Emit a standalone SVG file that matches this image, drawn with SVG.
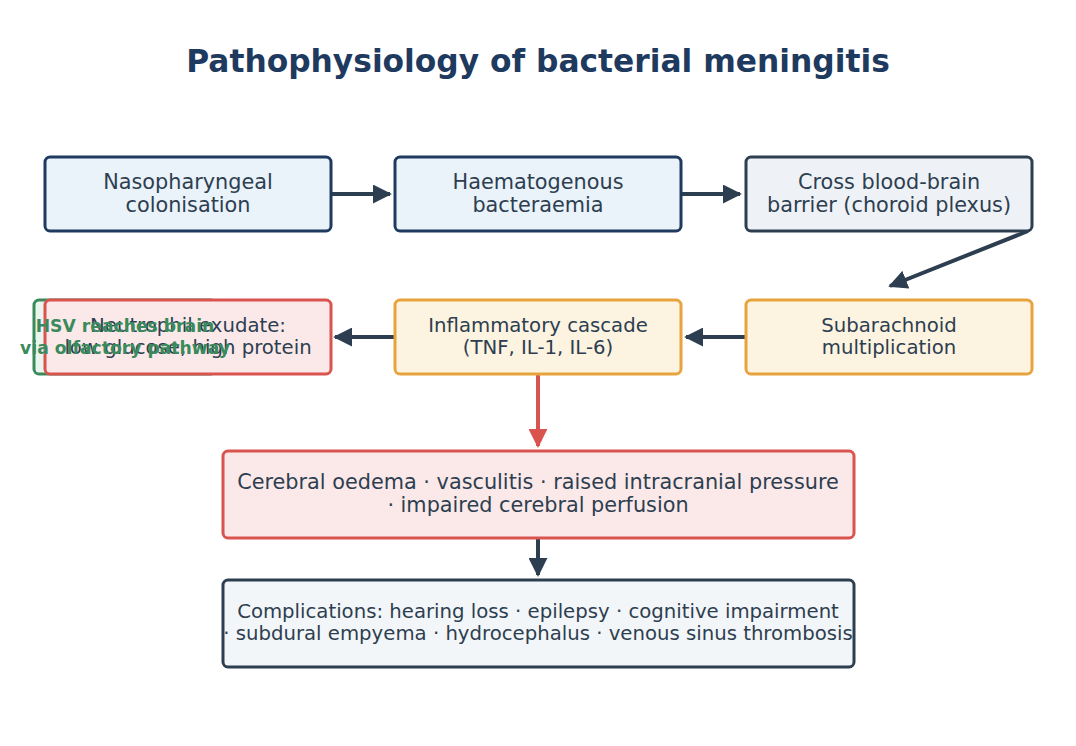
<svg xmlns="http://www.w3.org/2000/svg" width="1076" height="746" viewBox="0 0 1076 746">
<style>
text{font-family:"DejaVu Sans","Liberation Sans",sans-serif;text-anchor:middle;fill:#2d3e50}
.title{font-size:31.3px;font-weight:bold;fill:#1e3a5f}
.t21{font-size:20.8px}
.t20{font-size:19.7px}
.green{font-size:17.2px;font-weight:bold;fill:#3a8a5c}
rect{stroke-width:3}
.blue{fill:#eaf2fa;stroke:#1f3a5f}
.grey{fill:#eef2f6;stroke:#2d3e50}
.orange{fill:#fcf3e0;stroke:#e8a33d}
.red{fill:#fbe9e9;stroke:#d9534f}
.light{fill:#f3f6f8;stroke:#2d3e50}
.gbox{fill:#eaf5ee;stroke:#3a8a5c}
.c{fill:none;stroke-width:4}
.dk{stroke:#2d3e50}
.rd{stroke:#d9534f}
</style>
<defs>
<marker id="ad" viewBox="0 0 10 10" refX="9" refY="5" markerWidth="19" markerHeight="19" markerUnits="userSpaceOnUse" orient="auto"><path d="M0,0 L10,5 L0,10 z" fill="#2d3e50"/></marker>
<marker id="ar" viewBox="0 0 10 10" refX="9" refY="5" markerWidth="19" markerHeight="19" markerUnits="userSpaceOnUse" orient="auto"><path d="M0,0 L10,5 L0,10 z" fill="#d9534f"/></marker>
</defs>
<rect width="1076" height="746" fill="#ffffff" style="stroke:none"/>
<text class="title" x="538" y="72">Pathophysiology of bacterial meningitis</text>
<g id="connectors">
<line class="c dk" x1="331" y1="194" x2="390" y2="194" marker-end="url(#ad)"/>
<line class="c dk" x1="681" y1="194" x2="740" y2="194" marker-end="url(#ad)"/>
<line class="c dk" x1="1028" y1="231" x2="890" y2="286" marker-end="url(#ad)"/>
<line class="c dk" x1="746" y1="337" x2="686" y2="337" marker-end="url(#ad)"/>
<line class="c dk" x1="395" y1="337" x2="335" y2="337" marker-end="url(#ad)"/>
<line class="c rd" x1="538" y1="374" x2="538" y2="446" marker-end="url(#ar)"/>
<line class="c dk" x1="538" y1="538" x2="538" y2="575" marker-end="url(#ad)"/>
</g>
<g id="hsv-box"><rect class="gbox" x="34" y="300" width="182" height="74" rx="5"/></g>
<g id="n1"><rect class="blue" x="45" y="157" width="286" height="74" rx="5"/><text class="t21" x="188" y="189">Nasopharyngeal</text><text class="t21" x="188" y="212">colonisation</text></g>
<g id="n2"><rect class="blue" x="395" y="157" width="286" height="74" rx="5"/><text class="t21" x="538" y="189">Haematogenous</text><text class="t21" x="538" y="212">bacteraemia</text></g>
<g id="n3"><rect class="grey" x="746" y="157" width="286" height="74" rx="5"/><text class="t21" x="889" y="189">Cross blood-brain</text><text class="t21" x="889" y="212">barrier (choroid plexus)</text></g>
<g id="n4"><rect class="orange" x="746" y="300" width="286" height="74" rx="5"/><text class="t20" x="889" y="332">Subarachnoid</text><text class="t20" x="889" y="354">multiplication</text></g>
<g id="n5"><rect class="orange" x="395" y="300" width="286" height="74" rx="5"/><text class="t20" x="538" y="332">Inflammatory cascade</text><text class="t20" x="538" y="354">(TNF, IL-1, IL-6)</text></g>
<g id="n6"><rect class="red" x="45" y="300" width="286" height="74" rx="5"/><text class="t20" x="188" y="332">Neutrophil exudate:</text><text class="t20" x="188" y="354">low glucose, high protein</text></g>
<g id="hsv"><text class="green" x="125" y="332">HSV reaches brain</text><text class="green" x="125" y="354">via olfactory pathway</text></g>
<g id="n7"><rect class="red" x="223" y="451" width="631" height="87" rx="5"/><text class="t21" x="538" y="489">Cerebral oedema · vasculitis · raised intracranial pressure</text><text class="t21" x="538" y="512">· impaired cerebral perfusion</text></g>
<g id="n8"><rect class="light" x="223" y="580" width="631" height="87" rx="5"/><text class="t20" x="538" y="618">Complications: hearing loss · epilepsy · cognitive impairment</text><text class="t20" x="538" y="640">· subdural empyema · hydrocephalus · venous sinus thrombosis</text></g>
</svg>
